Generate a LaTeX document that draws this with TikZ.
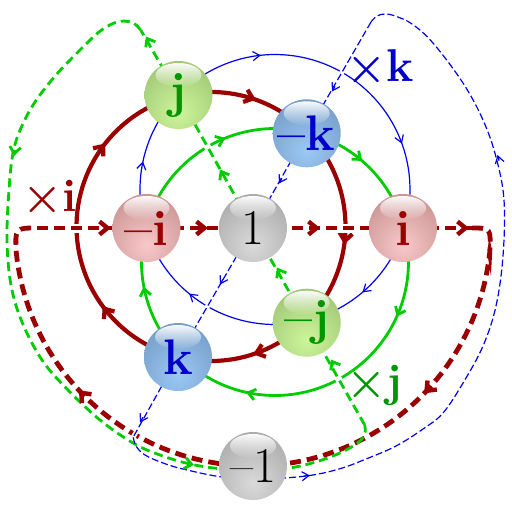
\documentclass[tikz,border=0pt]{standalone}
\usetikzlibrary{arrows.meta,decorations.markings,fadings,backgrounds}
\definecolor{qred}{RGB}{155,0,0}
\definecolor{qgreen}{RGB}{0,204,0}
\definecolor{qgreentext}{RGB}{0,150,0}
\definecolor{qblue}{RGB}{0,0,240}
\definecolor{qbluetext}{RGB}{0,0,200}
\definecolor{grayL}{RGB}{218,218,218}\definecolor{grayD}{RGB}{150,150,150}
\definecolor{pinkL}{RGB}{248,200,200}\definecolor{pinkD}{RGB}{182,125,125}
\definecolor{greenL}{RGB}{205,245,155}\definecolor{greenD}{RGB}{140,178,100}
\definecolor{blueL}{RGB}{155,200,245}\definecolor{blueD}{RGB}{100,138,178}
\tikzfading[name=qhl, top color=transparent!5, bottom color=transparent!100]
\newcommand{\qarc}[6]{\draw[#1] plot[domain=#5:#6, samples=60] ({#2+#4*cos(\x)},{#3+#4*sin(\x)});}
\newcommand{\qtip}[3]{\draw[#1,solid,->] #2 ++(#3:-6) -- #2;}
\begin{document}
\begin{tikzpicture}[x=1pt, y=-1pt,
  redsolid/.style={draw=qred, line width=4.2pt, >={Straight Barb[length=8pt,width=13pt]}},
  greensolid/.style={draw=qgreen, line width=2.8pt, >={Straight Barb[length=7pt,width=11pt]}},
  bluesolid/.style={draw=qblue, line width=1.2pt, >={Straight Barb[length=7pt,width=9pt]}},
  reddash/.style={draw=qred, line width=4.8pt, dash pattern=on 11pt off 6pt},
  greendash/.style={draw=qgreen, line width=2.8pt, dash pattern=on 9pt off 5pt},
  bluedash/.style={draw=qblue, line width=1.2pt, dash pattern=on 7pt off 3pt},
  redtip/.style={draw=qred, line width=4.4pt, >={Straight Barb[length=8pt,width=13pt]}},
  greentip/.style={draw=qgreen, line width=2.8pt, >={Straight Barb[length=7pt,width=11pt]}},
  bluetip/.style={draw=qblue, line width=1.2pt, >={Straight Barb[length=7pt,width=9pt]}},
  halo/.style={preaction={draw=white, solid, line width=#1}},
  qmark/.style={postaction={decorate, decoration={markings, mark=at position #1 with {\arrow{>}}}}},
  qmarktwo/.style 2 args={postaction={decorate, decoration={markings, mark=at position #1 with {\arrow{>}}, mark=at position #2 with {\arrow{>}}}}},
  qball/.style n args={3}{circle, minimum size=68pt, inner sep=0pt, text=#3,
    path picture={
      \shade[inner color=#1, outer color=#2] ([yshift=-17pt]path picture bounding box.center) circle (74pt);
      \fill[white, path fading=qhl] ([yshift=20pt]path picture bounding box.center) ellipse (23pt and 12pt);
    }},
  numfont/.style={font=\fontsize{50}{50}\selectfont},
  letfont/.style={font=\fontsize{50}{50}\selectfont\bfseries},
  lbl/.style={font=\fontsize{46}{46}\selectfont\bfseries, inner sep=0pt}
]
\useasboundingbox (0,0) rectangle (512,512);
% nodes
\node[qball={grayL}{grayD}{black}, numfont] (one) at (253,228) {1};
\node[qball={grayL}{grayD}{black}, numfont] (mone) at (253,466) {\textendash1};
\node[qball={pinkL}{pinkD}{qred}, letfont] (i) at (403,228) {i};
\node[qball={pinkL}{pinkD}{qred}, letfont] (mi) at (146.5,228) {\textendash i};
\node[qball={greenL}{greenD}{qgreentext}, letfont] (j) at (178.5,95) {j};
\node[qball={greenL}{greenD}{qgreentext}, letfont] (mj) at (306.7,322.7) {\textendash j};
\node[qball={blueL}{blueD}{qbluetext}, letfont] (k) at (178,357) {k};
\node[qball={blueL}{blueD}{qbluetext}, letfont] (mk) at (306.7,133.3) {\textendash k};
% labels
\node[lbl, text=qred] (li) at (50,197) {×i};
\node[lbl, text=qbluetext] (lk) at (380,66.5) {×k};
\node[lbl, text=qgreentext] (lj) at (374.5,385.7) {×j};
\begin{scope}[on background layer]
\fill[white] (0,0) rectangle (512,512);
% red solid circle: j -> -k -> -j -> k -> j
\qarc{redsolid, qmark=0.56}{211}{226.5}{134.5}{-103.9}{-44.2}
\qarc{redsolid, qmark=0.58}{211}{226.5}{134.5}{-44.2}{45.15}
\qarc{redsolid, qmark=0.45}{211}{226.5}{134.5}{45.15}{104.2}
\qarc{redsolid, qmarktwo={0.26}{0.75}}{211}{226.5}{134.5}{104.2}{256.1}
% green solid circle: -k -> i -> k -> -i -> -k
\qarc{greensolid, qmark=0.44}{275}{262}{133.5}{-76.2}{-14.9}
\qarc{greensolid, qmarktwo={0.26}{0.78}}{275}{262}{133.5}{-14.9}{135.6}
\qarc{greensolid, qmark=0.57}{275}{262}{133.5}{135.6}{194.8}
\qarc{greensolid, qmark=0.6}{275}{262}{133.5}{194.8}{283.8}
% blue solid circle: i -> -j -> -i -> j -> i
\qarc{bluesolid, qmark=0.55}{275}{189.5}{135}{16.7}{76.6}
\qarc{bluesolid, qmark=0.61}{275}{189.5}{135}{76.6}{163.3}
\qarc{bluesolid, qmark=0.47}{275}{189.5}{135}{163.3}{224.4}
\qarc{bluesolid, qmarktwo={0.26}{0.76}}{275}{189.5}{135}{224.4}{376.7}
% red dashed loop (x i)
\draw[reddash] plot[domain=90:174, samples=50] ({253+238*cos(\x)},{228+238*sin(\x)}) .. controls (15,228) .. (37,228);
\draw[reddash] (472,228) .. controls (491,228) .. (489.7,252.9) -- plot[domain=6:90, samples=50] ({253+238*cos(\x)},{228+238*sin(\x)});
% green dashed loop (x j)
\draw[greendash] plot[smooth, tension=0.6] coordinates {(140.7,30) (134,23.5) (124,21) (113,23.5) (99,32) (80,50) (56,75) (35,102) (21,128) (13,153) (9,190) (7,240) (11,285) (22,322) (42,360) (67,389) (100,420) (133,443) (160,455) (190,464) (222,469) (253,471) (290,468) (322,460) (346,450) (360,441) (365,433) (364.7,425)};
% blue dashed loop (x k)
\draw[bluedash] plot[smooth, tension=0.6] coordinates {(133.3,437) (136,446) (145,455) (163,463) (183,469) (222,477) (260,479) (306,476) (339,469) (366,459) (396,446) (423,429) (443,413) (463,383) (483,346) (496,306) (503,256) (504,200) (496,157) (483,120) (463,83) (433,43) (412,24) (395,16) (385,14) (377,16) (371,22)};
% straight dashed parts (in front, with white halo)
\draw[greendash, halo=6.8pt] (364.7,425) -- (mj.center) -- (one.center) -- (j.center) -- (140.7,30);
\draw[bluedash, halo=4.8pt] (371,22) -- (mk.center) -- (one.center) -- (k.center) -- (133.3,437);
\draw[reddash, halo=9pt] (37,228) -- (mi.center) -- (one.center) -- (i.center) -- (472,228);
% arrow tips on dashed loops
\qtip{redtip}{(111,228)}{0}
\qtip{redtip}{(208,228)}{0}
\qtip{redtip}{(320,228)}{0}
\qtip{redtip}{(469,228)}{0}
\qtip{redtip}{(424.2,393.3)}{134}
\qtip{redtip}{(78.9,390.3)}{227}
\qtip{greentip}{(331,359.5)}{240.4}
\qtip{greentip}{(277,267.5)}{240.4}
\qtip{greentip}{(220,169.5)}{240.4}
\qtip{greentip}{(146,36.5)}{240.4}
\qtip{greentip}{(14,156)}{98}
\qtip{greentip}{(194,465)}{12}
\qtip{bluetip}{(332,91.5)}{119.8}
\qtip{bluetip}{(279,183.5)}{119.8}
\qtip{bluetip}{(220,284.5)}{119.8}
\qtip{bluetip}{(140,422.5)}{119.8}
\qtip{bluetip}{(310,475.5)}{-5}
\qtip{bluetip}{(497.5,155)}{-106}
\end{scope}
\end{tikzpicture}
\end{document}
